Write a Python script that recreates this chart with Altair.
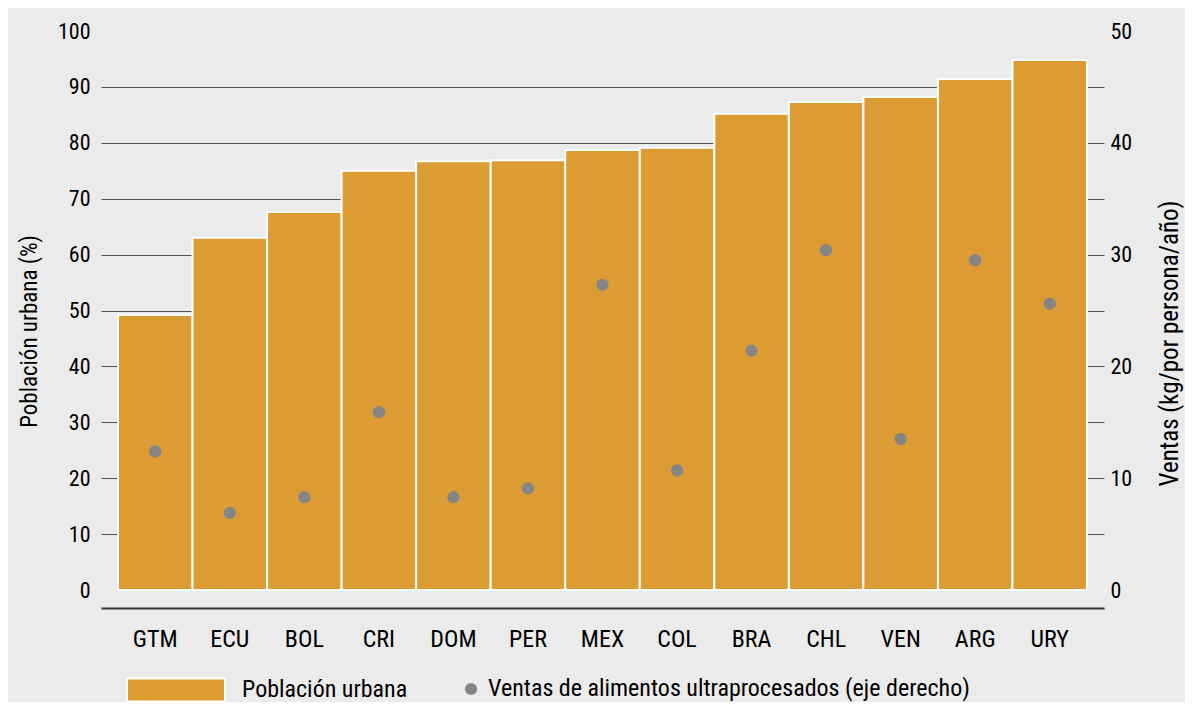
import altair as alt
import pandas as pd

paises = ["GTM", "ECU", "BOL", "CRI", "DOM", "PER", "MEX", "COL", "BRA", "CHL", "VEN", "ARG", "URY"]
poblacion_urbana = [49.2, 63.0, 67.6, 75.0, 76.7, 76.9, 78.7, 79.1, 85.2, 87.3, 88.2, 91.4, 94.8]
ventas = [12.4, 6.9, 8.3, 15.9, 8.3, 9.1, 27.3, 10.7, 21.4, 30.4, 13.5, 29.5, 25.6]

izq_ticks = [0, 10, 20, 30, 40, 50, 60, 70, 80, 90, 100]
der_ticks = [0, 10, 20, 30, 40, 50]

serie_barras = "Población urbana"
serie_puntos = "Ventas de alimentos ultraprocesados (eje derecho)"

df = pd.DataFrame({
    "pais": paises,
    "urbana": poblacion_urbana,
    "ventas": ventas,
    "sb": [serie_barras] * len(paises),
    "sp": [serie_puntos] * len(paises),
})

FONT = "Roboto Condensed, Roboto, sans-serif"
ORANGE = "#dc9c33"
GRAY = "#858585"

x = alt.X(
    "pais:N",
    sort=None,
    scale=alt.Scale(paddingInner=0, paddingOuter=0.228),
    axis=alt.Axis(
        title=None, labelAngle=0, offset=18, domainColor="#333333", domainWidth=2,
        ticks=False, labelFontSize=24, labelPadding=19, labelColor="black",
    ),
)

bars = alt.Chart(df).mark_bar(stroke="white", strokeWidth=2).encode(
    x=x,
    y=alt.Y(
        "urbana:Q",
        scale=alt.Scale(domain=[0, 100], nice=False),
        axis=alt.Axis(
            values=izq_ticks, title="Población urbana (%)", domain=False, ticks=False,
            grid=True, gridColor="#505050", gridWidth=1.2,
            gridOpacity={"condition": {"test": "datum.value == 0 || datum.value == 100", "value": 0}, "value": 1},
            labelPadding=11, labelFontSize=22, titleFontSize=23,
            titleAngle=270, titleX=-65, titleY=300, titleBaseline="alphabetic", titleAlign="center",
            titleFontWeight="normal", labelColor="black", titleColor="black",
        ),
    ),
    fill=alt.Fill(
        "sb:N",
        scale=alt.Scale(range=[ORANGE]),
        legend=alt.Legend(
            title=None, orient="none", legendX=25, legendY=609,
            symbolType="M-1,-0.235H1V0.235H-1Z", symbolSize=9604,
            symbolStrokeColor="white", symbolStrokeWidth=2, symbolFillColor=ORANGE,
            labelFontSize=24, labelOffset=16, labelColor="black", labelLimit=600,
        ),
    ),
)

points = alt.Chart(df).mark_point(filled=True, size=150, opacity=1).encode(
    x=x,
    y=alt.Y(
        "ventas:Q",
        scale=alt.Scale(domain=[0, 50], nice=False),
        axis=alt.Axis(
            orient="right", values=der_ticks, title="Ventas (kg/por persona/año)",
            domain=False, ticks=False, grid=False, labelPadding=6,
            labelFontSize=22, titleFontSize=25, titleFontWeight="normal",
            titleAngle=270, titleX=73, titleY=312, titleBaseline="alphabetic", titleAlign="center",
            labelColor="black", titleColor="black",
        ),
    ),
    color=alt.Color(
        "sp:N",
        scale=alt.Scale(range=[GRAY]),
        legend=alt.Legend(
            title=None, orient="none", legendX=358, legendY=646,
            symbolType="circle", symbolSize=150, symbolFillColor=GRAY, symbolStrokeWidth=0,
            labelFontSize=24, labelOffset=5, labelColor="black", labelLimit=800,
        ),
    ),
)

chart = alt.layer(bars, points).resolve_scale(
    y="independent", fill="independent", color="independent"
).properties(
    width=1003,
    height=559,
    padding={"left": 93, "top": 23, "right": 81, "bottom": 112},
    autosize=alt.AutoSizeParams(type="none"),
    background="#ebebeb",
).configure(font=FONT).configure_view(strokeWidth=0, stroke=None)

chart.save("out.html", embed_options={"renderer": "svg", "actions": False})
